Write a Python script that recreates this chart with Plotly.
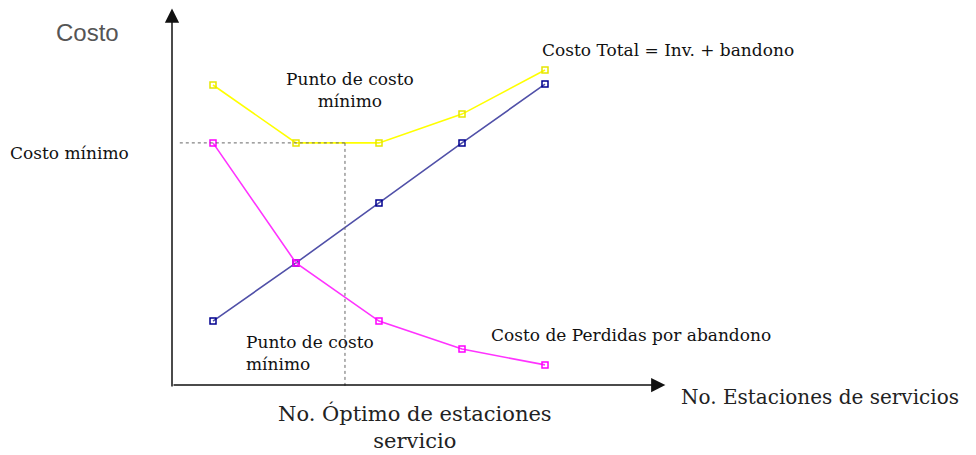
import plotly.graph_objects as go

# number of service stations (schematic)
estaciones = [1, 2, 3, 4, 5]
costo_total = [100, 80.7, 80.7, 90.3, 105]
costo_perdidas = [80.7, 40.7, 21.3, 12, 6.7]
costo_inversion = [21.3, 40.7, 60.7, 80.7, 100.3]

x_optimo = 2.59
costo_minimo = 80.7

W, H = 976, 455
SERIF = "DejaVu Serif"


def px(x):
    return x / W


def py(y):
    return 1 - y / H


fig = go.Figure()

fig.add_trace(go.Scatter(
    x=estaciones, y=costo_total, mode="lines+markers", name="Costo Total",
    line=dict(color="#ffff00", width=1.6),
    marker=dict(symbol="square-open", size=6, color="#e6e600", line=dict(width=1.5)),
))
fig.add_trace(go.Scatter(
    x=estaciones, y=costo_inversion, mode="lines+markers", name="Inversion",
    line=dict(color="#5050a8", width=1.6),
    marker=dict(symbol="square-open", size=6, color="#000090", line=dict(width=1.5)),
))
fig.add_trace(go.Scatter(
    x=estaciones, y=costo_perdidas, mode="lines+markers", name="Perdidas",
    line=dict(color="#ff33ff", width=1.6),
    marker=dict(symbol="square-open", size=6, color="#ff00ff", line=dict(width=1.5)),
))

# dotted guides for the minimum cost point
fig.add_shape(type="line", x0=0.6, x1=x_optimo, y0=costo_minimo, y1=costo_minimo,
              line=dict(color="#666", width=1, dash="dot"))
fig.add_shape(type="line", x0=x_optimo, x1=x_optimo, y0=costo_minimo, y1=-1,
              line=dict(color="#666", width=1, dash="dot"))

# axes with arrows
x0 = 1 - 41 / 83
fig.add_annotation(x=x0, y=125.5, ax=x0, ay=-1, xref="x", yref="y", axref="x", ayref="y",
                   text="", showarrow=True, arrowhead=2, arrowsize=1.9, arrowwidth=1.5, arrowcolor="#111")
fig.add_annotation(x=6.45, y=0, ax=x0, ay=0, xref="x", yref="y", axref="x", ayref="y",
                   text="", showarrow=True, arrowhead=2, arrowsize=1.9, arrowwidth=1.5, arrowcolor="#111")

labels = [
    ("Costo", 87, 33, "center", "Liberation Sans", 24, "#555"),
    ("Costo mínimo", 8, 153, "left", SERIF, 17, "#111"),
    ("Punto de costo<br>mínimo", 350, 90, "center", SERIF, 17, "#111"),
    ("Punto de costo<br>mínimo", 244, 353, "left", SERIF, 17, "#111"),
    ("Costo Total = Inv. + bandono", 540, 50, "left", SERIF, 17, "#111"),
    ("Costo de Perdidas por abandono", 489, 335, "left", SERIF, 17, "#111"),
    ("No. Estaciones de servicios", 679, 397, "left", SERIF, 20, "#222"),
    ("No. Óptimo de estaciones<br>servicio", 415, 427, "center", SERIF, 21, "#222"),
]
for text, lx, ly, align, family, size, color in labels:
    fig.add_annotation(x=px(lx), y=py(ly), xref="paper", yref="paper", text=text,
                       showarrow=False, xanchor=align, yanchor="middle", align=align,
                       font=dict(family=family, size=size, color=color))

fig.update_xaxes(range=[1 - 213 / 83, 1 + (W - 213) / 83], visible=False)
fig.update_yaxes(range=[-(H - 385) / 3, 385 / 3], visible=False)
fig.update_layout(
    width=W, height=H, margin=dict(l=0, r=0, t=0, b=0),
    paper_bgcolor="white", plot_bgcolor="white", showlegend=False,
)

fig.write_html("out.html", config={"displayModeBar": False},
               post_script="document.body.style.margin='0';")
